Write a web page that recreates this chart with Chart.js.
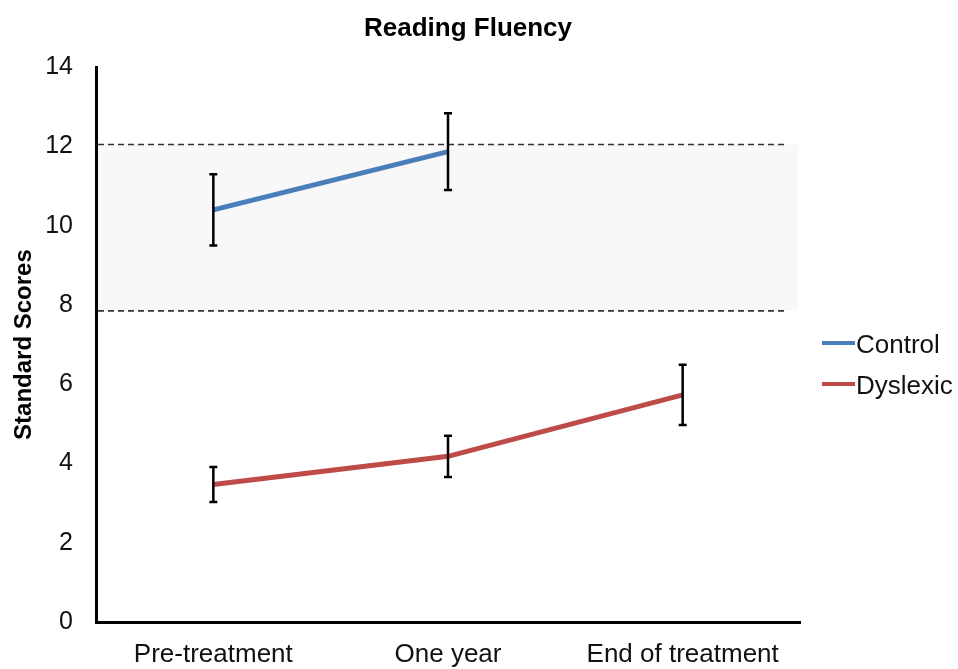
<!DOCTYPE html>
<html>
<head>
<meta charset="utf-8">
<script src="https://cdn.jsdelivr.net/npm/chart.js@4"></script>
<style>
  html, body { margin: 0; padding: 0; background: #fff; }
  #wrap { width: 958px; height: 669px; }
</style>
</head>
<body>
<div id="wrap"><canvas id="fluencyChart"></canvas></div>
<script>
// data
const timepoints = ['Pre-treatment', 'One year', 'End of treatment'];
const controlMeans = [10.4, 11.87, null];
const controlErrors = [0.9, 0.97, null];
const dyslexicMeans = [3.47, 4.18, 5.73];
const dyslexicErrors = [0.44, 0.52, 0.76];
const yTicks = [0, 2, 4, 6, 8, 10, 12, 14];
// average range band (dashed lines)
const normalRange = [7.85, 12.05];

const FONT = '"Liberation Sans", Arial, Helvetica, sans-serif';

// grey band with dashed borders, drawn before the lines
const bandPlugin = {
    id: 'band',
    beforeDatasetsDraw(chart) {
        const { ctx, chartArea } = chart;
        const y = chart.scales.y;
        const top = y.getPixelForValue(normalRange[1]);
        const bottom = y.getPixelForValue(normalRange[0]);
        ctx.save();
        ctx.fillStyle = '#f8f8f8';
        ctx.fillRect(chartArea.left + 2, top, chartArea.right - chartArea.left - 4, bottom - top);
        ctx.strokeStyle = '#333';
        ctx.lineWidth = 1.6;
        ctx.setLineDash([6, 4]);
        [top, bottom].forEach(py => {
            ctx.beginPath();
            ctx.moveTo(chartArea.left + 2, py);
            ctx.lineTo(chartArea.right - 12, py);
            ctx.stroke();
        });
        ctx.restore();
    }
};

// error bars from the error arrays
const errorBarPlugin = {
    id: 'errorBars',
    afterDatasetsDraw(chart) {
        const { ctx } = chart;
        const x = chart.scales.x;
        const y = chart.scales.y;
        ctx.save();
        ctx.strokeStyle = '#000';
        ctx.lineWidth = 2.5;
        chart.data.datasets.forEach(ds => {
            ds.data.forEach((v, i) => {
                if (v === null || ds.errors[i] === null) return;
                const px = x.getPixelForValue(i);
                const hi = y.getPixelForValue(v + ds.errors[i]);
                const lo = y.getPixelForValue(v - ds.errors[i]);
                ctx.beginPath();
                ctx.moveTo(px, hi); ctx.lineTo(px, lo);
                ctx.moveTo(px - 4, hi); ctx.lineTo(px + 4, hi);
                ctx.moveTo(px - 4, lo); ctx.lineTo(px + 4, lo);
                ctx.stroke();
            });
        });
        ctx.restore();
    }
};

// legend on the right, line sample + label
const legendPlugin = {
    id: 'sideLegend',
    afterDraw(chart) {
        const { ctx, chartArea } = chart;
        ctx.save();
        ctx.font = '26px ' + FONT;
        ctx.textBaseline = 'middle';
        ctx.fillStyle = '#111';
        chart.data.datasets.forEach((ds, i) => {
            const ly = 343 + i * 41;
            const lx = chartArea.right + 22;
            ctx.strokeStyle = ds.borderColor;
            ctx.lineWidth = 4;
            ctx.beginPath();
            ctx.moveTo(lx, ly);
            ctx.lineTo(lx + 33, ly);
            ctx.stroke();
            ctx.fillText(ds.label, lx + 34, ly + 3);
        });
        ctx.restore();
    }
};

const ctx = document.getElementById('fluencyChart').getContext('2d');
new Chart(ctx, {
    type: 'line',
    data: {
        labels: timepoints,
        datasets: [
            {
                label: 'Control',
                data: controlMeans,
                errors: controlErrors,
                borderColor: '#4a7ebb',
                borderWidth: 5,
                pointRadius: 0,
                tension: 0,
                spanGaps: false
            },
            {
                label: 'Dyslexic',
                data: dyslexicMeans,
                errors: dyslexicErrors,
                borderColor: '#be4b48',
                borderWidth: 5,
                pointRadius: 0,
                tension: 0
            }
        ]
    },
    options: {
        responsive: true,
        maintainAspectRatio: false,
        animation: false,
        events: [],
        layout: { padding: { left: 0, right: 22, top: 0, bottom: 0 } },
        plugins: {
            legend: { display: false },
            tooltip: { enabled: false },
            title: {
                display: true,
                text: 'Reading Fluency',
                color: '#000',
                font: { family: FONT, size: 26, weight: 'bold' },
                padding: { top: 13, bottom: 23 }
            }
        },
        scales: {
            x: {
                offset: true,
                grid: { display: false, drawTicks: false },
                border: { display: true, color: '#000', width: 3 },
                ticks: {
                    color: '#111',
                    font: { family: FONT, size: 26 },
                    padding: 17,
                    maxRotation: 0
                },
                afterFit(s) { s.height = 47; }
            },
            y: {
                min: 0,
                max: 14,
                grid: { display: false, drawTicks: false },
                border: { display: true, color: '#000', width: 3 },
                afterBuildTicks(s) { s.ticks = yTicks.map(v => ({ value: v })); },
                ticks: {
                    color: '#111',
                    font: { family: FONT, size: 25 },
                    padding: 23
                },
                title: {
                    display: true,
                    text: 'Standard Scores',
                    color: '#000',
                    font: { family: FONT, size: 24, weight: 'bold' },
                    padding: { top: 10, bottom: 0 }
                },
                afterFit(s) { s.width = 96; }
            },
            // empty right-hand box that leaves room for the legend
            side: {
                type: 'linear',
                position: 'right',
                grid: { display: false, drawTicks: false },
                border: { display: false },
                ticks: { display: false },
                afterFit(s) { s.width = 136; }
            }
        }
    },
    plugins: [bandPlugin, errorBarPlugin, legendPlugin]
});
</script>
</body>
</html>
